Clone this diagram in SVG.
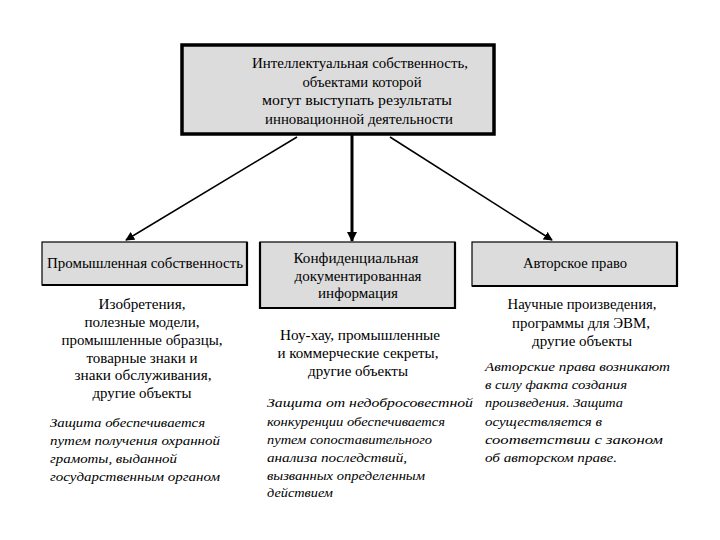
<svg xmlns="http://www.w3.org/2000/svg" width="720" height="540" viewBox="0 0 720 540">
<style>
  .box { fill: #dcdcdc; stroke: #000; stroke-width: 1.2; }
  .shadow { fill: none; stroke: #000; stroke-width: 2.2; }
  .t { font-family: "Liberation Serif", "DejaVu Serif", serif; font-size: 14px; fill: #000; text-anchor: middle; }
  .i { font-family: "Liberation Serif", "DejaVu Serif", serif; font-size: 13px; font-style: italic; fill: #000; }
  .thin { stroke: #000; stroke-width: 1.5; fill: none; marker-end: url(#ah); }
  .thick { stroke: #000; stroke-width: 3; fill: none; marker-end: url(#ahb); }
</style>
<defs>
  <marker id="ah" viewBox="0 0 10 10" refX="9" refY="5" markerWidth="6" markerHeight="6" orient="auto" markerUnits="strokeWidth">
    <path d="M0,0 L10,5 L0,10 z" fill="#000"/>
  </marker>
  <marker id="ahb" viewBox="0 0 10 10" refX="9" refY="5" markerWidth="3.5" markerHeight="3.5" orient="auto" markerUnits="strokeWidth">
    <path d="M0,0 L10,5 L0,10 z" fill="#000"/>
  </marker>
</defs>
<rect width="720" height="540" fill="#fff"/>

<g id="connectors">
  <line class="thin" x1="297" y1="137" x2="126" y2="240"/>
  <line class="thick" x1="352" y1="135" x2="352" y2="241"/>
  <line class="thin" x1="390" y1="137" x2="552" y2="240"/>
</g>

<g id="root">
  <rect x="182" y="45" width="312" height="89" fill="#dcdcdc" stroke="#000" stroke-width="3.5"/>
  <text class="t" x="360" y="68" textLength="216" lengthAdjust="spacingAndGlyphs">Интеллектуальная собственность,</text>
  <text class="t" x="362" y="87" textLength="119" lengthAdjust="spacingAndGlyphs">объектами которой</text>
  <text class="t" x="357" y="105" textLength="190" lengthAdjust="spacingAndGlyphs">могут выступать результаты</text>
  <text class="t" x="359" y="124" textLength="188" lengthAdjust="spacingAndGlyphs">инновационной деятельности</text>
</g>

<g id="industrial">
  <rect class="box" x="42" y="242" width="205" height="43"/>
  <polyline class="shadow" points="247,242 247,285 42,285"/>
  <text class="t" x="145" y="268" textLength="196" lengthAdjust="spacingAndGlyphs">Промышленная собственность</text>
</g>

<g id="industrial-objects">
  <text class="t" x="142" y="309" textLength="87" lengthAdjust="spacingAndGlyphs">Изобретения,</text>
  <text class="t" x="142" y="327" textLength="115" lengthAdjust="spacingAndGlyphs">полезные модели,</text>
  <text class="t" x="142" y="345" textLength="161" lengthAdjust="spacingAndGlyphs">промышленные образцы,</text>
  <text class="t" x="142" y="363" textLength="111" lengthAdjust="spacingAndGlyphs">товарные знаки и</text>
  <text class="t" x="143" y="380" textLength="137" lengthAdjust="spacingAndGlyphs">знаки обслуживания,</text>
  <text class="t" x="142" y="398" textLength="99" lengthAdjust="spacingAndGlyphs">другие объекты</text>
</g>

<g id="industrial-note">
  <text class="i" x="50" y="427" textLength="155" lengthAdjust="spacingAndGlyphs">Защита обеспечивается</text>
  <text class="i" x="50" y="445" textLength="170" lengthAdjust="spacingAndGlyphs">путем получения охранной</text>
  <text class="i" x="50" y="463" textLength="127" lengthAdjust="spacingAndGlyphs">грамоты, выданной</text>
  <text class="i" x="50" y="481" textLength="170" lengthAdjust="spacingAndGlyphs">государственным органом</text>
</g>

<g id="confidential">
  <rect class="box" x="260" y="242" width="195" height="66"/>
  <polyline class="shadow" points="455,242 455,308 260,308 260,242"/>
  <text class="t" x="356" y="263" textLength="125" lengthAdjust="spacingAndGlyphs">Конфиденциальная</text>
  <text class="t" x="358" y="281" textLength="127" lengthAdjust="spacingAndGlyphs">документированная</text>
  <text class="t" x="358" y="298" textLength="80" lengthAdjust="spacingAndGlyphs">информация</text>
</g>

<g id="confidential-objects">
  <text class="t" x="360" y="340" textLength="160" lengthAdjust="spacingAndGlyphs">Ноу-хау, промышленные</text>
  <text class="t" x="358" y="358" textLength="161" lengthAdjust="spacingAndGlyphs">и коммерческие секреты,</text>
  <text class="t" x="358" y="376" textLength="100" lengthAdjust="spacingAndGlyphs">другие объекты</text>
</g>

<g id="confidential-note">
  <text class="i" x="267" y="407" textLength="206" lengthAdjust="spacingAndGlyphs">Защита от недобросовестной</text>
  <text class="i" x="267" y="426" textLength="178" lengthAdjust="spacingAndGlyphs">конкуренции обеспечивается</text>
  <text class="i" x="267" y="444" textLength="165" lengthAdjust="spacingAndGlyphs">путем сопоставительного</text>
  <text class="i" x="267" y="462" textLength="140" lengthAdjust="spacingAndGlyphs">анализа последствий,</text>
  <text class="i" x="267" y="480" textLength="158" lengthAdjust="spacingAndGlyphs">вызванных определенным</text>
  <text class="i" x="267" y="497" textLength="66" lengthAdjust="spacingAndGlyphs">действием</text>
</g>

<g id="copyright">
  <rect class="box" x="472" y="242" width="205" height="44"/>
  <polyline class="shadow" points="677,242 677,286 472,286"/>
  <text class="t" x="575" y="268" textLength="104" lengthAdjust="spacingAndGlyphs">Авторское право</text>
</g>

<g id="copyright-objects">
  <text class="t" x="582" y="309" textLength="149" lengthAdjust="spacingAndGlyphs">Научные произведения,</text>
  <text class="t" x="581" y="328" textLength="138" lengthAdjust="spacingAndGlyphs">программы для ЭВМ,</text>
  <text class="t" x="582" y="346" textLength="100" lengthAdjust="spacingAndGlyphs">другие объекты</text>
</g>

<g id="copyright-note">
  <text class="i" x="485" y="371" textLength="185" lengthAdjust="spacingAndGlyphs">Авторские права возникают</text>
  <text class="i" x="485" y="389" textLength="142" lengthAdjust="spacingAndGlyphs">в силу факта создания</text>
  <text class="i" x="485" y="407" textLength="138" lengthAdjust="spacingAndGlyphs">произведения. Защита</text>
  <text class="i" x="485" y="426" textLength="117" lengthAdjust="spacingAndGlyphs">осуществляется в</text>
  <text class="i" x="485" y="444" textLength="178" lengthAdjust="spacingAndGlyphs">соответствии с законом</text>
  <text class="i" x="485" y="462" textLength="132" lengthAdjust="spacingAndGlyphs">об авторском праве.</text>
</g>
</svg>
